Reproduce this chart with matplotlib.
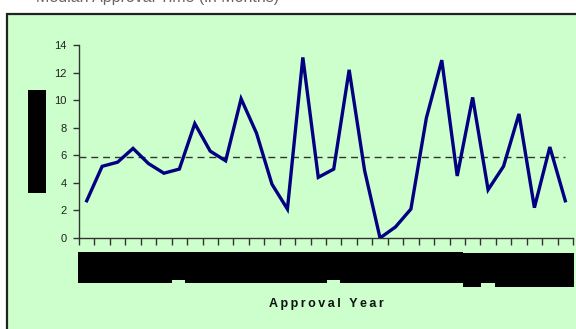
import numpy as np
import matplotlib.pyplot as plt
from matplotlib.patches import Rectangle

# yearly values, one per approval year (32 years)
years = list(range(1, 33))
values = [2.7, 5.2, 5.5, 6.5, 5.4, 4.7, 5.0, 8.3, 6.3, 5.6, 10.1, 7.6,
          3.9, 2.1, 13.1, 4.4, 5.0, 12.2, 4.9, 0.0, 0.8, 2.1, 8.7, 12.9,
          4.5, 10.2, 3.5, 5.2, 9.0, 2.2, 6.6, 2.7]
y_ticks = [0, 2, 4, 6, 8, 10, 12, 14]
x_title = "Approval Year"
top_title = "Median Approval Time (in Months)"

# blacked-out label areas, pixel boxes (x0, y0, x1, y1)
label_blocks = [(28, 90, 46, 193),
                (78, 252, 172, 283), (172, 252, 185, 280),
                (185, 252, 327, 283), (327, 252, 340, 280),
                (340, 252, 463, 283), (463, 253, 481, 287),
                (481, 253, 495, 283), (495, 253, 574, 287)]

W, H = 576, 329
BG = "#CCFFCC"
GREY = "#333333"

plt.rcParams['font.family'] = ['Liberation Sans', 'DejaVu Sans']

fig = plt.figure(figsize=(W / 100, H / 100), dpi=100)
fig.patch.set_facecolor("white")

def px(x0, y0, x1, y1):
    return (x0 / W, 1 - y1 / H), (x1 - x0) / W, (y1 - y0) / H

# green panel with its frame
xy, w, h = px(7, 14, 590, 340)
fig.patches.append(Rectangle(xy, w, h, transform=fig.transFigure,
                             facecolor=BG, edgecolor="#222222", lw=1.6, zorder=0))

# heading sits mostly above the top edge
fig.text(158 / W, 1 - 2 / H, top_title, ha="center", va="baseline",
         fontsize=11.5, color="#666666")

ax = fig.add_axes([79 / W, (H - 238) / H, (573 - 79) / W, (238 - 45) / H])
ax.set_facecolor("none")
ax.set_zorder(2)

x = np.arange(len(values))
ax.plot(x, values, color="#000080", lw=2.4, solid_joinstyle="miter", zorder=3)
ax.hlines(np.mean(values), -0.5, len(values) - 1, colors=GREY, lw=1.0,
          linestyles=(0, (5, 3.5)), zorder=2)

ax.set_xlim(-0.5, len(values) - 0.5)
ax.set_ylim(0, 14)
ax.set_yticks(y_ticks)
ax.set_xticks(np.arange(len(values) + 1) - 0.5)
ax.set_xticklabels([])
ax.tick_params(axis="y", direction="out", length=4, width=1, color=GREY,
               labelsize=8, labelcolor="#222222", pad=5)
ax.tick_params(axis="x", direction="out", length=5, width=1, color=GREY)
for s in ["top", "right"]:
    ax.spines[s].set_visible(False)
for s in ["left", "bottom"]:
    ax.spines[s].set_color(GREY)
    ax.spines[s].set_linewidth(1.0)

fig.text(326 / W, 1 - 307 / H, "\u2009".join(x_title), ha="center",
         va="baseline", fontsize=9, fontweight="bold", color="#111111",
         zorder=3)

for b in label_blocks:
    xy, w, h = px(*b)
    fig.patches.append(Rectangle(xy, w, h, transform=fig.transFigure,
                                 facecolor="black", edgecolor="none", zorder=5))

fig.savefig("out.png", dpi=100)
